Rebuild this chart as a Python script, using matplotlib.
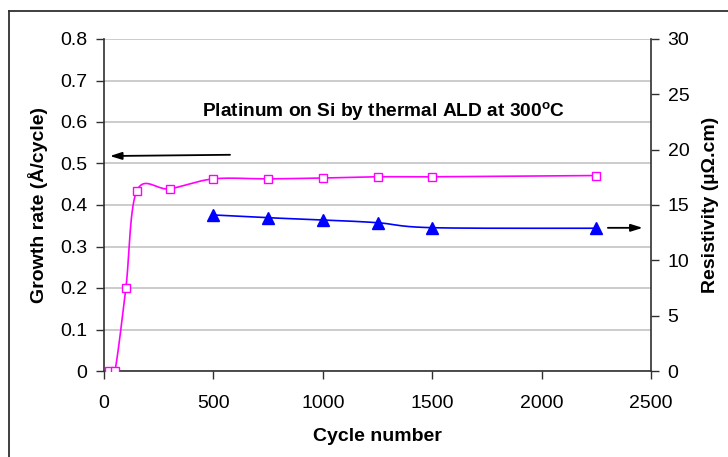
import numpy as np
import matplotlib
matplotlib.use("Agg")
import matplotlib.pyplot as plt
from matplotlib.lines import Line2D

plt.rcParams['font.family'] = ['Liberation Sans', 'DejaVu Sans']
plt.rcParams['mathtext.fontset'] = 'custom'
plt.rcParams['mathtext.rm'] = 'Liberation Sans'
plt.rcParams['mathtext.bf'] = 'Liberation Sans:bold'

# Data
growth_cycles = [25, 50, 100, 150, 300, 500, 750, 1000, 1250, 1500, 2250]
growth_rate = [0.0, 0.0, 0.2, 0.434, 0.439, 0.463, 0.463, 0.465, 0.468, 0.468, 0.471]
res_cycles = [500, 750, 1000, 1250, 1500, 2250]
resistivity = [14.1, 13.85, 13.65, 13.4, 12.95, 12.9]

xticks = [0, 500, 1000, 1500, 2000, 2500]
yticks_left = [0, 0.1, 0.2, 0.3, 0.4, 0.5, 0.6, 0.7, 0.8]
yticks_right = [0, 5, 10, 15, 20, 25, 30]
title_text = r"Platinum on Si by thermal ALD at 300$^{\mathbf{o}}$C"


def smooth(x, y, n=40):
    """Excel-like smoothed line (Catmull-Rom Bezier)."""
    p = np.column_stack([x, y]).astype(float)
    pts = np.vstack([p[0], p, p[-1]])
    out = []
    t = np.linspace(0, 1, n)[:, None]
    for i in range(1, len(pts) - 2):
        p0, p1, p2, p3 = pts[i - 1], pts[i], pts[i + 1], pts[i + 2]
        c1 = p1 + (p2 - p0) / 6.0
        c2 = p2 - (p3 - p1) / 6.0
        seg = ((1 - t) ** 3) * p1 + 3 * ((1 - t) ** 2) * t * c1 + 3 * (1 - t) * t ** 2 * c2 + t ** 3 * p2
        out.append(seg if i == 1 else seg[1:])
    s = np.vstack(out)
    return s[:, 0], s[:, 1]


W, H = 728, 457
fig = plt.figure(figsize=(W / 100, H / 100), dpi=100)
ax = fig.add_axes([104 / W, 1 - 371 / H, (651 - 104) / W, (371 - 39) / H])
ax2 = ax.twinx()

fs = 14
dark = '#303030'

# grid
ax.set_axisbelow(True)
ax.yaxis.grid(True, color='#c8c8c8', linewidth=1.3)

# growth rate
sx, sy = smooth(growth_cycles, growth_rate)
ax.plot(sx, sy, color='#ff00ff', linewidth=1.2, zorder=3)
ax.plot(growth_cycles, growth_rate, linestyle='none', marker='s', markersize=5.5,
        markerfacecolor='white', markeredgecolor='#ff00ff', markeredgewidth=1.0, zorder=4)

# resistivity
rx, ry = smooth(res_cycles, resistivity)
ax2.plot(rx, ry, color='#0000ff', linewidth=1.2, zorder=3)
ax2.plot(res_cycles, resistivity, linestyle='none', marker='^', markersize=8.5,
         color='#0000ff', zorder=4)

ax.set_xlim(0, 2500)
ax.set_ylim(0, 0.8)
ax2.set_ylim(0, 30)
ax.set_xticks(xticks)
ax.set_yticks(yticks_left)
ax.set_yticklabels([f"{v:g}" for v in yticks_left])
ax2.set_yticks(yticks_right)

for a in (ax, ax2):
    a.spines['top'].set_visible(False)
    for s in a.spines.values():
        s.set_color(dark)
        s.set_linewidth(1.2)
    a.tick_params(direction='out', length=6, width=1.0, color=dark, labelsize=fs, pad=6)
ax2.spines['left'].set_visible(False)
ax2.spines['bottom'].set_visible(False)
ax.spines['right'].set_visible(False)
ax.tick_params(axis='x', pad=11)

ax.set_xlabel("Cycle number", fontsize=fs, fontweight='bold', labelpad=12)
ax.set_ylabel("Growth rate (Å/cycle)", fontsize=fs, fontweight='bold', labelpad=9)
ax2.set_ylabel("Resistivity (µΩ.cm)", fontsize=fs, fontweight='bold', labelpad=9)

ax.text(1280, 0.624, title_text, fontsize=13.8, fontweight='bold', ha='center', va='center')

arrow = dict(arrowstyle='-|>,head_length=0.7,head_width=0.22', color='black', lw=1.3,
             shrinkA=0, shrinkB=0)
ax.annotate('', xy=(27, 0.518), xytext=(576, 0.521), arrowprops=arrow)
ax.annotate('', xy=(2462, 0.345), xytext=(2303, 0.345), arrowprops=arrow, annotation_clip=False)

# outer frame
fig.add_artist(Line2D([9 / W, 9 / W], [0, 1 - 11 / H], color=dark, lw=1.3))
fig.add_artist(Line2D([9 / W, 1], [1 - 11 / H, 1 - 11 / H], color=dark, lw=1.3))

fig.savefig("out.png", dpi=100)
